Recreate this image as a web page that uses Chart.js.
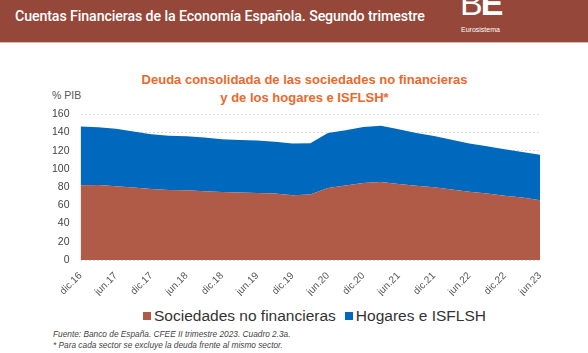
<!DOCTYPE html>
<html>
<head>
<meta charset="utf-8">
<script src="https://cdn.jsdelivr.net/npm/chart.js@4.4.1/dist/chart.umd.min.js"></script>
<style>
  html, body { margin: 0; padding: 0; background: #fff; }
  body { width: 588px; height: 353px; position: relative; overflow: hidden; font-family: "Liberation Sans", Arial, sans-serif; }
  #header { position: absolute; left: 0; top: 0; width: 588px; height: 42px; background: #954739; border-bottom: 1px solid #dcbab2; }
  #htitle { position: absolute; left: 15px; top: 8px; color: #fff; font-family: Roboto, "Liberation Sans", sans-serif; font-weight: 500; font-size: 14.2px; letter-spacing: -0.1px; white-space: nowrap; }
  #logo { position: absolute; left: 460px; top: -14px; color: #fff; font-family: "Liberation Sans", Arial, sans-serif; font-size: 34px; line-height: 34px; letter-spacing: -2px; }
  #logo .b { font-weight: 300; }
  #logo .e { font-weight: 700; }
  #euro { position: absolute; left: 461px; top: 26px; color: #fff; font-size: 7px; font-family: "Liberation Sans", Arial, sans-serif; }
  #ctitle { position: absolute; left: 0; width: 609px; top: 71px; text-align: center; color: #e9692c; font-weight: bold; font-size: 13px; line-height: 18px; }
  #unit { position: absolute; left: 52px; top: 89px; color: #555; font-size: 10.5px; }
  #chartbox { position: absolute; left: 0; top: 97px; width: 588px; height: 199px; }
  #legend { position: absolute; left: 143px; top: 307px; color: #333; font-size: 15.5px; white-space: nowrap; line-height: 18px; }
  #legend span.sq { display: inline-block; width: 8px; height: 8px; margin-right: 3px; vertical-align: 1px; }
  #legend span.item { margin-right: 9px; }
  #foot { position: absolute; left: 53px; top: 329px; color: #444; font-style: italic; font-size: 8.3px; line-height: 10.5px; }
</style>
</head>
<body>
<div id="header">
  <div id="htitle">Cuentas Financieras de la Economía Española. Segundo trimestre</div>
  <div id="logo"><span class="b">B</span><span class="e">E</span></div>
  <div id="euro">Eurosistema</div>
</div>
<div id="ctitle">Deuda consolidada de las sociedades no financieras<br>y de los hogares e ISFLSH*</div>
<div id="unit">% PIB</div>
<div id="chartbox"><canvas id="c"></canvas></div>
<div id="legend"></div>
<div id="foot">Fuente: Banco de España. CFEE II trimestre 2023. Cuadro 2.3a.<br>* Para cada sector se excluye la deuda frente al mismo sector.</div>
<script>
const categories = ['dic.16','mar.17','jun.17','sep.17','dic.17','mar.18','jun.18','sep.18','dic.18','mar.19','jun.19','sep.19','dic.19','mar.20','jun.20','sep.20','dic.20','mar.21','jun.21','sep.21','dic.21','mar.22','jun.22','sep.22','dic.22','mar.23','jun.23'];
const sociedades = [82, 82.3, 81, 79.5, 78, 77, 76.5, 75.5, 74.8, 74.2, 73.5, 73, 71.2, 72, 79, 81.7, 84.5, 85.7, 83.5, 81.5, 80, 77.5, 75, 73, 70.5, 68.5, 65.5];
const hogares = [64.5, 63.5, 63, 61.5, 60, 59.5, 59.3, 59, 57.7, 57.6, 57.8, 56.8, 56.6, 56.3, 60.5, 60.8, 61.5, 61.6, 60, 58, 56.3, 54.5, 53, 52, 51, 50, 50];
const yTicks = [0, 20, 40, 60, 80, 100, 120, 140, 160];
const seriesNames = ['Sociedades no financieras', 'Hogares e ISFLSH'];
const colors = ['#b05b47', '#0069be'];

const chart = new Chart(document.getElementById('c'), {
  type: 'line',
  data: {
    labels: categories,
    datasets: [
      { label: seriesNames[0], data: sociedades, backgroundColor: colors[0], borderColor: colors[0], borderWidth: 0, pointRadius: 0, fill: 'origin', tension: 0 },
      { label: seriesNames[1], data: hogares, backgroundColor: colors[1], borderColor: colors[1], borderWidth: 0, pointRadius: 0, fill: '-1', tension: 0 }
    ]
  },
  options: {
    responsive: true,
    maintainAspectRatio: false,
    animation: false,
    layout: { padding: { left: 0, right: 48, top: 0, bottom: 0 } },
    plugins: {
      legend: { display: false },
      tooltip: { enabled: false }
    },
    scales: {
      x: {
        type: 'category',
        offset: false,
        grid: { display: false },
        border: { display: false },
        ticks: {
          autoSkip: false, maxRotation: 45, minRotation: 45, padding: 2,
          color: '#555', font: { family: 'Liberation Sans', size: 10 },
          callback: function(v, i) { return i % 2 === 0 ? categories[i] : ''; }
        },
        afterFit: function(s) { s.height = 36; }
      },
      y: {
        stacked: true,
        min: 0, max: 160,
        afterBuildTicks: function(s) { s.ticks = yTicks.map(v => ({ value: v })); },
        grid: { color: '#dedede', drawTicks: false, tickLength: 0 },
        border: { display: false, dash: [2, 2] },
        ticks: { padding: 11, color: '#444', font: { family: 'Liberation Sans', size: 10.5 } },
        afterFit: function(s) { s.width = 80.5; }
      }
    }
  }
});

// HTML legend built from the chart's datasets
const leg = document.getElementById('legend');
chart.data.datasets.forEach(function(ds) {
  const item = document.createElement('span');
  item.className = 'item';
  const sq = document.createElement('span');
  sq.className = 'sq';
  sq.style.background = ds.backgroundColor;
  item.appendChild(sq);
  item.appendChild(document.createTextNode(ds.label));
  leg.appendChild(item);
});
</script>
</body>
</html>
